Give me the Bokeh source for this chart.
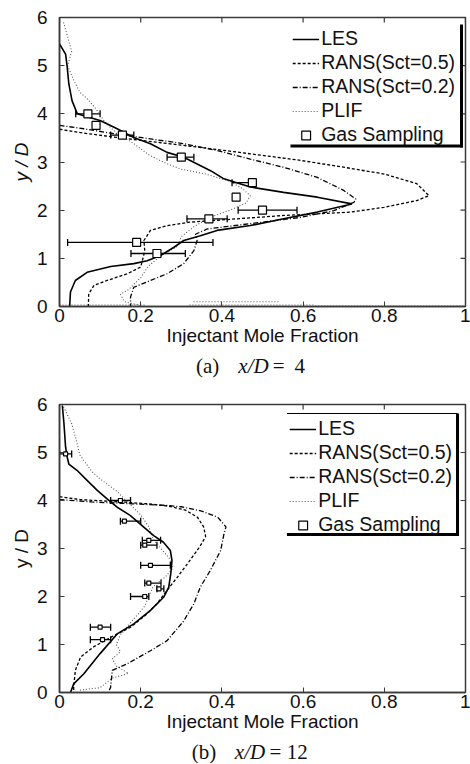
from bokeh.plotting import figure
from bokeh.layouts import column
from bokeh.models import (Range1d, FixedTicker, NumeralTickFormatter, Legend, LegendItem,
                          Whisker, TeeHead, ColumnDataSource)
from bokeh.core.properties import value
from bokeh.embed import file_html
from bokeh.resources import INLINE

nan = float("nan")

# ---------------- (a) x/D = 4 ----------------
a_les_x = [0.0, 0.015, 0.019, 0.023, 0.031, 0.044, 0.06, 0.10, 0.142, 0.183, 0.224, 0.265, 0.306,
           0.372, 0.405, 0.47, 0.552, 0.635, 0.72, 0.635, 0.552, 0.47, 0.388, 0.347, 0.306, 0.282,
           0.249, 0.216, 0.183, 0.126, 0.068, 0.039, 0.027, 0.025]
a_les_y = [5.45, 5.24, 4.97, 4.62, 4.27, 4.0, 3.96, 3.86, 3.69, 3.51, 3.38, 3.2, 3.1,
           2.82, 2.65, 2.48, 2.37, 2.27, 2.13, 1.96, 1.82, 1.68, 1.58, 1.47, 1.37, 1.23,
           1.06, 0.95, 0.89, 0.83, 0.71, 0.54, 0.3, 0.0]

a_r05_x = [0.0, 0.06, 0.15, 0.25, 0.35, 0.47, 0.58, 0.68, 0.80, 0.88, 0.91, 0.88, 0.80, 0.717,
           0.552, 0.437, 0.32, 0.265, 0.224, 0.208, 0.21, 0.20, 0.167, 0.117, 0.085, 0.072, 0.071]
a_r05_y = [3.68, 3.6, 3.5, 3.4, 3.3, 3.17, 3.05, 2.92, 2.75, 2.55, 2.3, 2.2, 2.06, 1.96,
           1.89, 1.82, 1.75, 1.68, 1.58, 1.37, 1.15, 0.82, 0.68, 0.54, 0.44, 0.26, 0.0]

a_r02_x = [0.0, 0.06, 0.14, 0.224, 0.306, 0.388, 0.47, 0.552, 0.635, 0.70, 0.73, 0.725, 0.676,
           0.594, 0.47, 0.364, 0.335, 0.339, 0.331, 0.306, 0.265, 0.224, 0.183, 0.175, 0.175]
a_r02_y = [3.76, 3.69, 3.58, 3.48, 3.38, 3.24, 3.06, 2.89, 2.68, 2.41, 2.23, 2.16, 1.99,
           1.85, 1.72, 1.61, 1.5, 1.37, 1.16, 0.89, 0.68, 0.54, 0.4, 0.2, 0.0]

a_plif_x = [0.01, 0.02, 0.03, 0.02, 0.035, 0.05, 0.07, 0.09, 0.11, 0.14, 0.18, 0.22, 0.26, 0.30,
            0.36, 0.42, 0.45, 0.47, 0.46, 0.42, 0.37, 0.33, 0.30, 0.29, 0.25, 0.22, 0.20, 0.17,
            0.15, 0.16, 0.20, nan, 0.0, 0.21, nan, 0.33, 0.54, nan, 0.32, 0.63, nan, 0.63, 1.0]
a_plif_y = [5.9, 5.6, 5.3, 5.0, 4.7, 4.45, 4.3, 4.1, 3.85, 3.6, 3.4, 3.15, 2.98, 2.85,
            2.75, 2.6, 2.45, 2.3, 2.15, 2.0, 1.85, 1.65, 1.45, 1.25, 1.05, 0.85, 0.6, 0.35,
            0.25, 0.1, 0.02, nan, 0.03, 0.03, nan, 0.1, 0.1, nan, 0.03, 0.03, nan, 0.01, 0.01]

a_gas_x = [0.07, 0.09, 0.155, 0.30, 0.475, 0.435, 0.50, 0.368, 0.19, 0.24]
a_gas_y = [4.0, 3.76, 3.56, 3.1, 2.57, 2.27, 2.0, 1.82, 1.33, 1.1]
a_gas_lo = [0.04, 0.085, 0.126, 0.265, 0.425, 0.43, 0.44, 0.314, 0.02, 0.176]
a_gas_hi = [0.10, 0.095, 0.183, 0.331, 0.48, 0.44, 0.585, 0.413, 0.378, 0.31]

# ---------------- (b) x/D = 12 ----------------
b_les_x = [0.007, 0.011, 0.015, 0.019, 0.023, 0.043, 0.068, 0.093, 0.118, 0.142, 0.174, 0.199,
           0.232, 0.256, 0.273, 0.277, 0.274, 0.269, 0.257, 0.224, 0.183, 0.142, 0.10, 0.06,
           0.035, 0.027]
b_les_y = [5.98, 5.6, 5.11, 4.9, 4.76, 4.63, 4.42, 4.21, 4.03, 3.86, 3.69, 3.51,
           3.27, 3.13, 2.96, 2.75, 2.47, 2.19, 1.99, 1.71, 1.43, 1.22, 0.81, 0.39,
           0.18, 0.0]

b_r05_x = [0.0, 0.05, 0.15, 0.22, 0.27, 0.31, 0.34, 0.355, 0.36, 0.35, 0.339, 0.315, 0.29,
           0.265, 0.24, 0.216, 0.175, 0.126, 0.084, 0.052, 0.039, 0.035, 0.035]
b_r05_y = [4.08, 4.02, 3.97, 3.93, 3.88, 3.8, 3.65, 3.45, 3.25, 3.1, 2.96, 2.68, 2.4,
           2.13, 1.85, 1.64, 1.36, 1.15, 0.95, 0.74, 0.46, 0.11, 0.0]

b_r02_x = [0.0, 0.08, 0.18, 0.26, 0.30, 0.35, 0.39, 0.41, 0.405, 0.397, 0.372, 0.347, 0.331,
           0.306, 0.265, 0.224, 0.167, 0.13, 0.126, 0.12]
b_r02_y = [4.02, 3.97, 3.93, 3.9, 3.87, 3.78, 3.65, 3.45, 3.3, 2.96, 2.55, 2.2, 1.85,
           1.49, 1.08, 0.87, 0.6, 0.46, 0.11, 0.0]

b_plif_x = [0.01, 0.03, 0.04, 0.05, 0.08, 0.10, 0.14, 0.17, 0.20, 0.22, 0.23, 0.25, 0.27, 0.28,
            0.26, 0.23, 0.22, 0.21, 0.19, 0.17, 0.15, 0.14, 0.15, 0.13, 0.14, 0.17, 0.13, 0.10,
            0.05]
b_plif_y = [5.95, 5.6, 5.3, 4.95, 4.6, 4.45, 4.2, 3.95, 3.7, 3.45, 3.2, 3.0, 2.8, 2.6,
            2.4, 2.2, 2.0, 1.8, 1.6, 1.4, 1.2, 1.0, 0.85, 0.7, 0.55, 0.4, 0.3, 0.1,
            0.05]

b_gas_x = [0.015, 0.15, 0.16, 0.22, 0.21, 0.224, 0.22, 0.245, 0.21, 0.10, 0.106]
b_gas_y = [4.97, 4.0, 3.57, 3.17, 3.07, 2.65, 2.28, 2.16, 2.0, 1.36, 1.1]
b_gas_lo = [0.0, 0.126, 0.15, 0.204, 0.20, 0.20, 0.21, 0.24, 0.175, 0.076, 0.076]
b_gas_hi = [0.03, 0.175, 0.20, 0.249, 0.24, 0.273, 0.25, 0.257, 0.22, 0.126, 0.126]

x_ticks = [0, 0.2, 0.4, 0.6, 0.8, 1]
y_ticks = [0, 1, 2, 3, 4, 5, 6]
labels = ["LES", "RANS(Sct=0.5)", "RANS(Sct=0.2)", "PLIF", "Gas Sampling"]

SANS = "Liberation Sans"
SERIF = "Liberation Serif"
FRAME = "#3a3a3a"
W = 470
LEFT = 59
TICK = 5


def style_axis(ax):
    ax.axis_line_color = FRAME
    ax.axis_line_width = 1.5
    ax.major_tick_in = TICK
    ax.major_tick_out = 0
    ax.major_tick_line_color = FRAME
    ax.minor_tick_line_color = None
    ax.major_label_text_font = SANS
    ax.major_label_text_font_size = "19px"
    ax.major_label_text_color = "#111111"
    ax.axis_label_text_font = SANS
    ax.axis_label_text_font_size = "19px"
    ax.axis_label_text_color = "#111111"


def make_panel(height, top, bottom, right, les, r05, r02, plif, gas, marker_size,
               ylab_italic, leg_margin, shadow_px, top_line):
    p = figure(width=W, height=height, output_backend="svg", toolbar_location=None,
               x_range=Range1d(0, 1), y_range=Range1d(0, 6),
               min_border_left=LEFT, min_border_right=right, min_border_top=top,
               min_border_bottom=bottom, background_fill_color="white",
               border_fill_color="white")
    p.grid.visible = False
    p.outline_line_color = FRAME
    p.outline_line_width = 1.5

    style_axis(p.xaxis[0])
    style_axis(p.yaxis[0])
    p.xaxis.ticker = FixedTicker(ticks=x_ticks)
    p.xaxis.formatter = NumeralTickFormatter(format="0.[0]")
    p.yaxis.ticker = FixedTicker(ticks=y_ticks)
    p.xaxis.axis_label = "Injectant Mole Fraction"
    p.xaxis.axis_label_text_font_style = "normal"
    p.xaxis.major_label_standoff = 2
    p.xaxis.axis_label_standoff = 0
    p.yaxis.axis_label = "y / D"
    p.yaxis.axis_label_text_font_style = "italic" if ylab_italic else "normal"
    p.yaxis.major_label_standoff = 12
    p.yaxis.axis_label_standoff = 2

    frame_top = top
    frame_bot = height - bottom
    frame_w = W - LEFT - right
    frame_h = frame_bot - frame_top

    # box-style inward ticks on the top and right edges, at the same tick values
    ty = 6 - TICK * 6 / frame_h
    tx = 1 - TICK / frame_w
    p.segment(x0=x_ticks, y0=[6] * len(x_ticks), x1=x_ticks, y1=[ty] * len(x_ticks),
              line_color=FRAME, line_width=1.2)
    p.segment(x0=[1] * len(y_ticks), y0=y_ticks, x1=[tx] * len(y_ticks), y1=y_ticks,
              line_color=FRAME, line_width=1.2)

    # legend drop-shadow frame (canvas pixel layout -> data units)
    def dx(px):
        return (px - LEFT) / frame_w

    def dy(py):
        return (frame_bot - py) / frame_h * 6

    l_px, t_px, r_px, b_px = shadow_px
    p.segment(x0=[dx(r_px), dx(l_px)], y0=[dy(t_px), dy(b_px)],
              x1=[dx(r_px), dx(r_px + 1.5)], y1=[dy(b_px + 1.5), dy(b_px)],
              line_color="black", line_width=3)
    if top_line:
        p.segment(x0=[dx(l_px)], y0=[dy(t_px)], x1=[dx(r_px)], y1=[dy(t_px)],
                  line_color="black", line_width=1.2)

    r_plif = p.line(plif[0], plif[1], line_color="#555555", line_width=1.1, line_dash="1 2")
    r_r02 = p.line(r02[0], r02[1], line_color="black", line_width=1.3, line_dash="5 2 1 2")
    r_r05 = p.line(r05[0], r05[1], line_color="black", line_width=1.3, line_dash="3 2")
    r_les = p.line(les[0], les[1], line_color="black", line_width=1.6)

    src = ColumnDataSource(dict(x=gas[0], y=gas[1], lo=gas[2], hi=gas[3]))
    wh = Whisker(source=src, base="y", lower="lo", upper="hi", dimension="width",
                 line_color="black", line_width=1.3,
                 upper_head=TeeHead(size=7, line_color="black", line_width=1.3),
                 lower_head=TeeHead(size=7, line_color="black", line_width=1.3))
    p.add_layout(wh)
    r_gas = p.scatter("x", "y", source=src, marker="square", size=marker_size,
                      fill_color="white", line_color="black", line_width=1.2)

    rends = [r_les, r_r05, r_r02, r_plif, r_gas]
    items = [LegendItem(label=l, renderers=[r]) for l, r in zip(labels, rends)]
    lg = Legend(items=items, location="top_right", orientation="vertical",
                label_text_font=SANS, label_text_font_size="19.5px",
                label_text_color="#111111",
                glyph_width=27, glyph_height=22, label_height=22,
                label_standoff=2, padding=3, spacing=1, margin=leg_margin,
                border_line_color="white", border_line_alpha=0.0,
                background_fill_color="white", background_fill_alpha=0.0)
    p.add_layout(lg)
    return p


def make_caption(height, cy, parts):
    c = figure(width=W, height=height, output_backend="svg", toolbar_location=None,
               x_range=Range1d(0, W), y_range=Range1d(0, height),
               x_axis_location=None, y_axis_location=None,
               min_border=0, min_border_left=0, min_border_right=0,
               min_border_top=0, min_border_bottom=0,
               background_fill_color="white", border_fill_color="white")
    c.grid.visible = False
    c.outline_line_color = None
    for (txt, xs, ital) in parts:
        c.text(x=[xs], y=[cy], text=[txt], text_font=value(SERIF), text_font_size="21px",
               text_font_style="italic" if ital else "normal", text_color="#111111",
               text_baseline="middle", text_align="left")
    return c


pa = make_panel(352, 17, 46, 5,
                (a_les_x, a_les_y), (a_r05_x, a_r05_y), (a_r02_x, a_r02_y),
                (a_plif_x, a_plif_y), (a_gas_x, a_gas_y, a_gas_lo, a_gas_hi), 8,
                True, 7, (290, 24, 461, 145.5), False)
ca = make_caption(28, 15, [("(a)", 158, False), ("x/D", 207, True),
                           ("=", 247, False), ("4", 272, False)])

pb = make_panel(356, 24, 44, 4,
                (b_les_x, b_les_y), (b_r05_x, b_r05_y), (b_r02_x, b_r02_y),
                (b_plif_x, b_plif_y), (b_gas_x, b_gas_y, b_gas_lo, b_gas_hi), 4,
                False, 10, (287, 33, 458, 154), True)
cb = make_caption(28, 13, [("(b)", 153, False), ("x/D", 203, True),
                           ("=", 243, False), ("12", 263, False)])

layout = column(pa, ca, pb, cb, spacing=0)
open("out.html", "w").write(file_html(layout, INLINE))
